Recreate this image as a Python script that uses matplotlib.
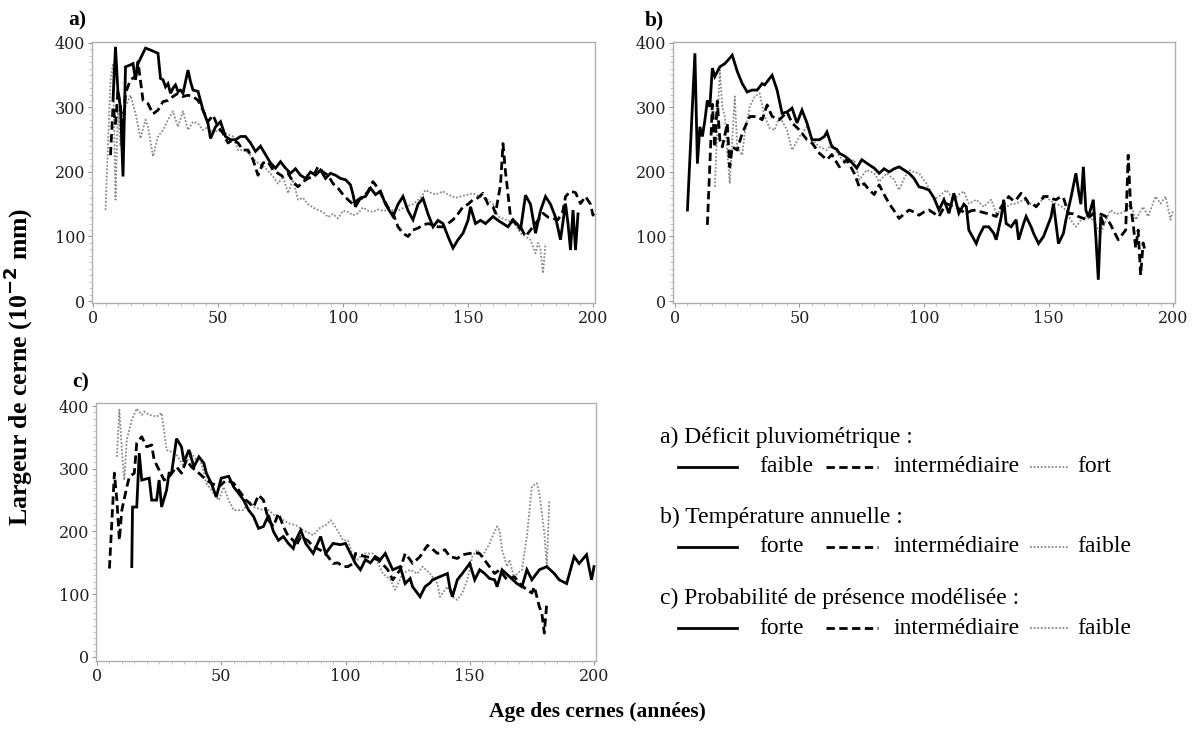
import matplotlib
matplotlib.use("Agg")
import matplotlib.pyplot as plt
from matplotlib.lines import Line2D
from matplotlib.ticker import MultipleLocator

W, H = 1192, 731

# ---------------- data: (age, ring width 10^-2 mm) ----------------
a_faible = [(8,311),(9,394),(10,322),(11,301),(12,193),(13,363),(15,366),(16,368),(17,343),(18,368),(21,392),(23,389),(26,384),(27,345),(28,343),(29,332),(30,337),(31,322),(32,330),(33,335),(34,325),(35,327),(36,322),(38,358),(39,340),(40,327),(42,325),(44,296),(46,275),(47,252),(49,270),(51,278),(53,255),(55,250),(57,250),(59,255),(61,255),(63,245),(65,232),(67,240),(69,227),(71,214),(73,206),(75,216),(77,206),(79,198),(81,205),(83,195),(85,190),(87,200),(89,195),(91,203),(93,190),(95,198),(97,195),(99,190),(101,188),(103,180),(104,165),(105,146),(107,160),(109,162),(111,175),(113,165),(115,170),(117,150),(120,131),(122,150),(124,162),(126,140),(128,126),(130,150),(132,159),(134,135),(136,115),(138,125),(140,120),(142,100),(144,82),(146,95),(148,105),(150,125),(151,146),(153,120),(155,125),(157,120),(160,131),(162,125),(164,120),(166,115),(168,126),(170,118),(171,110),(173,164),(175,150),(177,105),(179,140),(181,162),(183,150),(185,130),(187,95),(189,151),(190,120),(191,79),(192,141),(193,79),(194,135)]
a_inter = [(7,226),(8,301),(9,275),(10,327),(11,300),(12,265),(13,322),(15,343),(17,348),(18,371),(20,311),(22,306),(24,290),(26,296),(28,309),(30,311),(32,317),(34,322),(36,317),(38,319),(40,317),(42,311),(44,296),(46,278),(48,288),(50,270),(52,260),(54,245),(56,250),(58,245),(60,234),(62,234),(64,219),(66,195),(68,214),(70,216),(72,203),(74,198),(76,193),(78,198),(80,185),(82,177),(84,185),(86,190),(88,193),(90,208),(92,200),(94,195),(96,182),(98,175),(100,165),(102,157),(104,150),(106,157),(108,160),(110,170),(112,185),(114,175),(116,160),(118,145),(120,136),(122,115),(124,105),(126,100),(128,110),(130,113),(132,118),(134,120),(136,118),(138,115),(140,115),(142,120),(144,126),(146,135),(148,146),(150,150),(152,157),(154,160),(156,167),(158,150),(160,146),(161,136),(163,180),(164,244),(165,200),(167,131),(169,120),(171,115),(173,100),(175,110),(176,115),(178,125),(180,136),(182,130),(184,128),(186,126),(188,140),(189,162),(191,170),(193,168),(195,151),(197,162),(199,150),(200,133),(201,140)]
a_fort = [(5,141),(7,342),(8,368),(9,157),(10,301),(11,240),(12,290),(13,301),(15,319),(17,291),(19,252),(21,281),(22,270),(24,224),(26,255),(28,265),(30,281),(32,294),(34,270),(36,294),(38,265),(40,278),(42,275),(44,265),(46,270),(48,260),(50,265),(53,260),(56,255),(58,234),(61,234),(64,221),(66,214),(69,206),(72,193),(74,182),(76,193),(78,167),(80,188),(82,157),(84,160),(86,150),(88,145),(90,141),(92,138),(94,130),(96,135),(98,128),(100,140),(102,138),(104,133),(106,136),(108,145),(110,140),(112,138),(114,142),(116,140),(119,141),(122,140),(125,146),(128,150),(131,160),(133,172),(135,168),(137,165),(140,170),(142,165),(145,160),(147,162),(150,165),(152,167),(154,163),(156,160),(158,157),(160,150),(162,131),(164,128),(167,123),(169,118),(171,105),(173,100),(175,95),(177,74),(178,90),(179,80),(180,43),(181,89)]

b_forte = [(5,141),(8,384),(9,213),(10,270),(11,255),(12,280),(13,311),(14,301),(15,361),(16,348),(18,363),(20,368),(21,372),(23,381),(25,356),(27,337),(29,324),(31,327),(33,327),(35,337),(36,335),(38,345),(39,350),(41,327),(43,291),(45,293),(47,299),(49,276),(51,296),(53,276),(55,250),(58,250),(60,255),(61,262),(63,239),(65,235),(66,229),(68,225),(70,219),(73,206),(75,219),(78,211),(80,206),(82,198),(84,205),(86,200),(88,205),(90,208),(92,203),(94,198),(96,190),(98,177),(100,175),(102,172),(104,160),(106,141),(108,157),(110,136),(112,167),(114,136),(116,150),(117,146),(118,110),(121,89),(122,100),(124,115),(126,115),(128,105),(129,95),(131,130),(132,157),(133,120),(135,115),(137,126),(138,95),(140,120),(141,131),(143,115),(144,105),(146,89),(148,100),(149,110),(151,130),(152,151),(154,89),(156,105),(157,126),(159,160),(161,198),(162,172),(163,150),(164,208),(165,141),(166,130),(168,157),(169,100),(170,33),(171,131),(172,120)]
b_inter = [(13,118),(15,305),(16,238),(17,310),(18,250),(19,239),(21,275),(22,208),(23,239),(25,234),(27,260),(30,286),(33,286),(35,281),(37,304),(39,286),(42,281),(45,293),(47,276),(50,265),(53,250),(55,245),(58,229),(61,219),(63,227),(66,208),(69,219),(72,198),(74,177),(76,182),(78,172),(80,165),(82,180),(84,165),(86,151),(88,140),(90,128),(92,135),(94,141),(96,138),(98,133),(100,138),(102,141),(104,136),(106,131),(108,145),(109,151),(111,148),(113,146),(115,140),(117,136),(119,140),(121,141),(123,138),(125,136),(127,134),(129,131),(131,146),(132,150),(134,162),(136,155),(137,157),(139,167),(141,158),(142,151),(144,150),(145,146),(147,155),(148,162),(150,162),(152,158),(153,157),(155,162),(156,160),(158,136),(160,135),(162,131),(164,128),(165,126),(167,132),(168,136),(170,136),(172,133),(173,131),(175,118),(176,110),(178,95),(179,100),(181,110),(182,226),(183,146),(184,120),(185,82),(186,110),(187,40),(188,90),(189,75)]
b_faible = [(16,177),(18,358),(19,300),(20,286),(21,229),(22,182),(24,317),(25,238),(27,226),(28,260),(30,301),(32,317),(34,322),(36,286),(38,268),(40,265),(42,286),(45,265),(47,234),(50,255),(53,270),(55,250),(58,239),(61,234),(63,244),(66,224),(69,214),(72,219),(74,188),(77,203),(80,198),(82,185),(85,198),(88,188),(90,172),(92,190),(94,203),(96,200),(98,198),(101,182),(104,157),(106,162),(109,172),(112,157),(114,165),(116,170),(118,151),(121,157),(124,146),(127,157),(129,136),(131,140),(133,146),(135,150),(137,151),(139,155),(141,157),(143,150),(145,146),(147,155),(149,162),(151,155),(153,151),(155,147),(157,141),(159,125),(161,115),(162,120),(164,131),(166,128),(168,126),(170,110),(171,105),(173,125),(175,141),(177,135),(179,136),(181,140),(183,151),(185,126),(186,133),(188,146),(190,131),(193,162),(195,151),(197,162),(199,126),(200,141)]

c_forte = [(14,144),(14.3,239),(16,239),(17,325),(18,282),(21,285),(22,250),(24,250),(25,282),(26,239),(28,266),(29,293),(30,293),(32,348),(34,335),(35,311),(37,330),(39,303),(41,319),(43,309),(44,293),(46,277),(48,255),(50,285),(53,288),(55,271),(57,261),(59,250),(61,234),(63,224),(65,205),(67,208),(69,226),(71,200),(73,186),(75,192),(77,181),(79,173),(80,186),(82,202),(84,181),(87,165),(90,192),(92,165),(95,181),(98,179),(100,181),(102,165),(104,149),(106,139),(108,155),(110,150),(112,160),(114,155),(116,165),(119,139),(122,144),(124,117),(126,125),(127,112),(130,96),(132,112),(134,118),(135,123),(138,128),(141,133),(142,110),(143,96),(145,123),(147,133),(150,149),(152,123),(154,139),(156,133),(158,125),(160,123),(161,112),(163,139),(166,128),(169,117),(171,112),(173,139),(175,123),(178,139),(181,144),(184,133),(186,123),(189,117),(192,160),(194,149),(197,163),(199,123),(200,144)]
c_inter = [(5,141),(7,293),(8,250),(9,186),(10,234),(12,271),(13,287),(15,293),(16,341),(18,351),(20,335),(22,338),(23,314),(25,298),(27,282),(29,287),(32,303),(34,293),(36,314),(38,303),(41,293),(44,282),(46,277),(49,271),(52,282),(55,277),(57,266),(60,250),(63,239),(65,258),(67,250),(69,218),(71,208),(73,229),(75,208),(77,192),(79,186),(80,176),(82,192),(85,185),(87,176),(90,170),(92,165),(95,149),(97,150),(99,144),(101,144),(103,149),(104,165),(106,162),(108,160),(111,158),(113,155),(115,148),(117,139),(119,123),(122,139),(124,165),(126,155),(127,149),(130,160),(133,178),(135,172),(137,165),(140,171),(142,160),(145,157),(147,163),(150,165),(152,166),(154,165),(157,149),(160,133),(162,139),(165,123),(168,128),(170,117),(173,107),(175,102),(176,112),(178,80),(179,70),(180,38),(181,86)]
c_faible = [(8,319),(9,394),(10,330),(11,282),(12,346),(14,378),(16,396),(18,386),(19,391),(21,386),(24,383),(26,389),(28,330),(30,327),(32,322),(35,303),(38,325),(40,314),(42,309),(44,277),(46,266),(49,250),(51,271),(53,250),(55,234),(59,234),(61,250),(63,239),(67,234),(69,234),(72,224),(75,218),(77,213),(80,210),(83,202),(87,194),(90,207),(92,210),(94,218),(96,207),(99,186),(101,186),(103,160),(105,155),(107,165),(111,165),(113,150),(115,133),(118,123),(120,107),(123,133),(126,139),(129,133),(131,144),(134,133),(137,117),(138,96),(141,112),(143,96),(145,91),(147,102),(149,123),(151,160),(153,171),(155,160),(158,181),(160,200),(161,208),(162,202),(163,171),(165,144),(166,155),(168,123),(169,133),(171,139),(173,192),(175,272),(177,277),(178,261),(180,197),(181,144),(182,250)]

panel_labels = ["a)", "b)", "c)"]
x_ticks = [0, 50, 100, 150, 200]
y_ticks = [0, 100, 200, 300, 400]
legend_titles = ["a) Déficit pluviométrique :", "b) Température annuelle :",
                 "c) Probabilité de présence modélisée :"]
legend_entries = [["faible", "intermédiaire", "fort"],
                  ["forte", "intermédiaire", "faible"],
                  ["forte", "intermédiaire", "faible"]]

# ---------------- styles ----------------
SOLID = dict(color="black", lw=2.0, ls="-")
DASH = dict(color="black", lw=2.0, ls=(0, (3.0, 1.6)))
DOT = dict(color="#8a8a8a", lw=1.3, ls=(0, (1.0, 1.0)))
SERIF = "Liberation Serif"
TICKFONT = "DejaVu Serif"

fig = plt.figure(figsize=(W / 100, H / 100), dpi=100)
fig.patch.set_facecolor("white")


def px_axes(l, t, r, b):
    return fig.add_axes([l / W, 1 - b / H, (r - l) / W, (b - t) / H])


def style(ax, xlim, ylim):
    ax.set_xlim(*xlim)
    ax.set_ylim(*ylim)
    ax.set_xticks(x_ticks)
    ax.set_yticks(y_ticks)
    ax.xaxis.set_minor_locator(MultipleLocator(5))
    ax.yaxis.set_minor_locator(MultipleLocator(10))
    for s in ax.spines.values():
        s.set_color("#b0b0b0")
        s.set_linewidth(1.0)
    ax.tick_params(which="major", length=3, width=0.8, color="#999999",
                   labelsize=11.5, pad=2, labelcolor="#222222")
    ax.tick_params(which="minor", length=2, width=0.6, color="#bbbbbb")
    for lab in ax.get_xticklabels() + ax.get_yticklabels():
        lab.set_family(TICKFONT)


def draw(ax, series):
    styles = [SOLID, DASH, DOT]
    for i in [2, 1, 0]:  # dotted first, black lines on top
        xs, ys = zip(*series[i])
        ax.plot(xs, ys, **styles[i], solid_joinstyle="miter")


axA = px_axes(92, 42, 595, 303)
draw(axA, [a_faible, a_inter, a_fort])
style(axA, (-0.4, 200.8), (-3.1, 401.5))

axB = px_axes(673, 42, 1175, 303)
draw(axB, [b_forte, b_inter, b_faible])
style(axB, (-0.8, 200.8), (-3.1, 401.5))

axC = px_axes(96, 403, 596, 661)
draw(axC, [c_forte, c_inter, c_faible])
style(axC, (-0.4, 200.8), (-6.4, 404.8))

# panel labels
for lab, (x, y) in zip(panel_labels, [(68, 20), (645, 20), (72, 382)]):
    fig.text(x / W, 1 - y / H, lab, family=SERIF, weight="bold",
             fontsize=15.5, va="center", ha="left")

# axis titles
fig.text(18 / W, 1 - 367 / H, "Largeur de cerne (10$^{\\mathbf{-2}}$ mm)",
         family=SERIF, weight="bold", fontsize=18.5, rotation=90,
         va="center", ha="center")
fig.text(597 / W, 1 - 712 / H, "Age des cernes (années)", family=SERIF,
         weight="bold", fontsize=15.5, va="center", ha="center")

# legend block
title_y = [437, 517, 598]
entry_dy = 30
line_x = [(678, 737), (826, 878), (1030, 1069)]
text_x = [759, 894, 1077]
for t, ents, ty in zip(legend_titles, legend_entries, title_y):
    fig.text(660 / W, 1 - ty / H, t, family=SERIF, fontsize=17,
             va="center", ha="left")
    ey = ty + entry_dy
    for (x0, x1), st, tx, e in zip(line_x, [SOLID, DASH, DOT], text_x, ents):
        ln = Line2D([x0 / W, x1 / W], [1 - ey / H, 1 - ey / H],
                    transform=fig.transFigure, **st)
        fig.add_artist(ln)
        fig.text(tx / W, 1 - ey / H, e, family=SERIF, fontsize=17,
                 va="center", ha="left")

fig.savefig("out.png", dpi=100, facecolor="white")
